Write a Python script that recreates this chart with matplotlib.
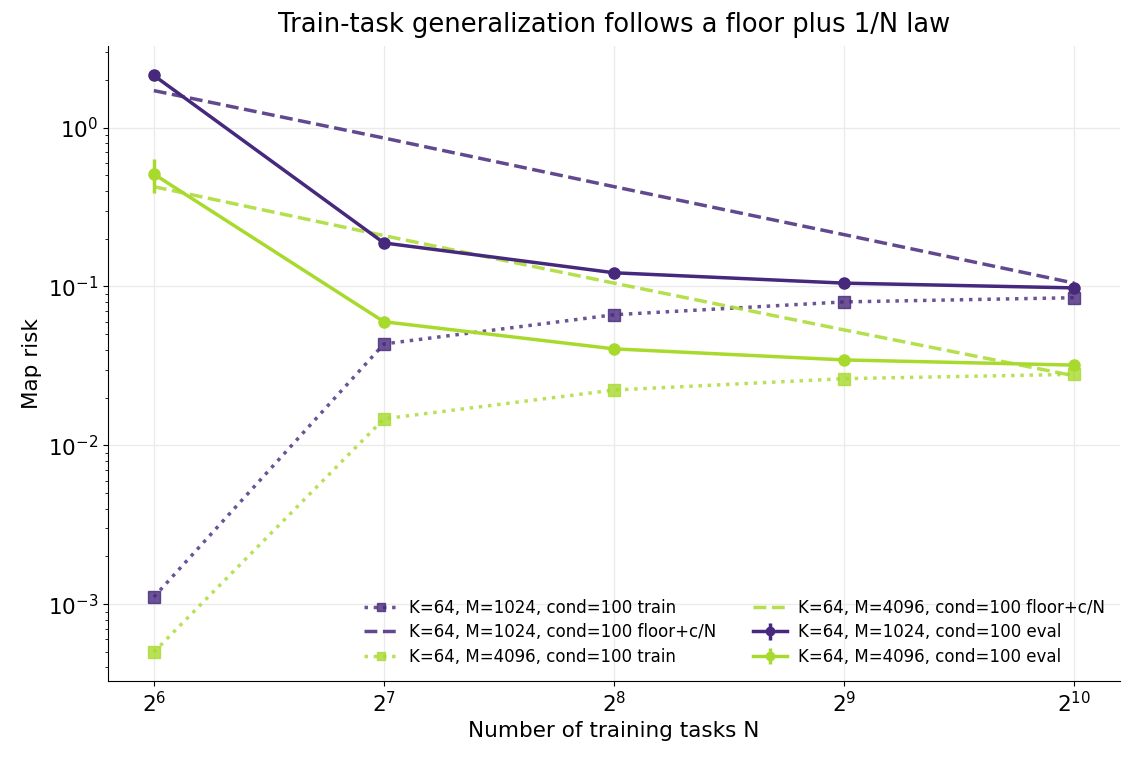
import numpy as np
import matplotlib
matplotlib.use("Agg")
import matplotlib.pyplot as plt

# number of training tasks
N = [64, 128, 256, 512, 1024]

# K=64, M=1024, cond=100
eval_1024 = [2.13, 0.188, 0.122, 0.105, 0.098]
err_1024 = [0.03, 0.004, 0.002, 0.002, 0.002]
train_1024 = [0.00111, 0.0435, 0.0664, 0.080, 0.085]
floor_1024 = [1.71, 0.86, 0.425, 0.212, 0.105]

# K=64, M=4096, cond=100
eval_4096 = [0.51, 0.060, 0.0405, 0.0345, 0.032]
err_4096 = [0.125, 0.002, 0.001, 0.001, 0.001]
train_4096 = [0.0005, 0.0147, 0.0223, 0.0263, 0.028]
floor_4096 = [0.425, 0.209, 0.105, 0.0533, 0.0274]

purple = '#46287c'
green = '#a8da2e'

fig, ax = plt.subplots(figsize=(11.35, 7.6), dpi=100)

configs = [
    ('K=64, M=1024, cond=100', purple, eval_1024, err_1024, train_1024, floor_1024),
    ('K=64, M=4096, cond=100', green, eval_4096, err_4096, train_4096, floor_4096),
]

for name, c, ev, er, tr, fl in configs:
    ax.errorbar(N, ev, yerr=er, color=c, marker='o', ms=8, lw=2.5,
                elinewidth=2.5, label=name + ' eval', zorder=3)
    ax.plot(N, tr, color=c, ls=':', marker='s', ms=8, lw=2.5, alpha=0.8,
            label=name + ' train')
    ax.plot(N, fl, color=c, ls='--', lw=2.5, alpha=0.85,
            label=name + ' floor+c/N')

ax.set_xscale('log', base=2)
ax.set_yscale('log')
ax.set_xticks(N)
ax.tick_params(labelsize=15.5)
ax.grid(True, color='#ebebeb', lw=1)
ax.set_axisbelow(True)
ax.spines['top'].set_visible(False)
ax.spines['right'].set_visible(False)

ax.set_xlabel('Number of training tasks N', fontsize=15.5)
ax.set_ylabel('Map risk', fontsize=15.5)
ax.set_title('Train-task generalization follows a floor plus 1/N law', fontsize=18.5, pad=10)
ax.legend(ncol=2, loc='lower right', frameon=False, fontsize=12,
          handlelength=2, columnspacing=2.2, handletextpad=0.7,
          labelspacing=0.4, markerscale=0.75)

fig.subplots_adjust(left=0.095, right=0.987, top=0.94, bottom=0.104)
fig.savefig('out.png', dpi=100)
